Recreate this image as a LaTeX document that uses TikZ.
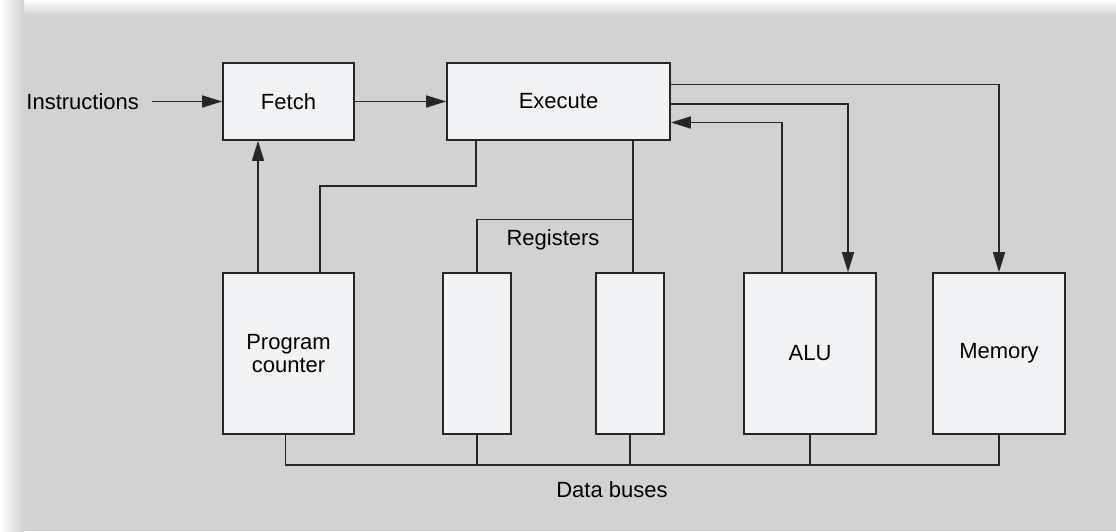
\documentclass[tikz,border=0pt]{standalone}
\usepackage{fontspec}
\setmainfont{Liberation Sans}
\usetikzlibrary{arrows.meta, positioning, calc}
\definecolor{StoneGray}{HTML}{D2D2D2}
\definecolor{BoxFill}{HTML}{F2F3F5}
\definecolor{LineDark}{HTML}{262626}

\begin{document}
\begin{tikzpicture}[
    x=1pt, y=-1pt,
    font=\fontsize{22}{23.5}\selectfont,
    box/.style={rectangle, draw=LineDark, fill=BoxFill, line width=1.7pt, align=center, inner sep=0pt},
    unit/.style={box, minimum width=132pt, minimum height=161pt},
    reg/.style={box, minimum width=68pt, minimum height=161pt},
    lbl/.style={inner sep=3pt, text=black},
    wire/.style={draw=LineDark, line width=1.7pt},
    arr/.style={wire, -{Triangle[length=20pt,width=12pt]}}
]
    % Background
    \fill[StoneGray] (0,0) rectangle (1116,531);
    \shade[top color=white, bottom color=StoneGray] (0,0) rectangle (1116,16);
    \shade[left color=white, right color=StoneGray] (0,0) rectangle (24,531);
    \useasboundingbox (0,0) rectangle (1116,531);

    % Control
    \node[box, minimum width=131pt, minimum height=77pt] (fetch) at (288.5,101.5) {Fetch};
    \node[box, minimum width=223pt, minimum height=77pt] (exec) at (558.5,101.5) {Execute};
    \node[lbl, inner xsep=13pt, left=70pt of fetch] (instr) {Instructions};

    % Units
    \node[unit, minimum width=131pt] (pc) at (288.5,353.5) {Program\\counter};
    \node[reg] (reg1) at (477,353.5) {};
    \node[reg] (reg2) at (630,353.5) {};
    \node[unit] (alu) at (810,353.5) {ALU};
    \node[unit] (mem) at (999,353.5) {Memory};
    \node[lbl] (reglbl) at (553,240) {Registers};
    \node[lbl] (buslbl) at (612,490) {Data buses};

    % Connections
    \draw[arr] (instr) -- (fetch);
    \draw[arr] (fetch) -- (exec);
    \draw[arr] ([xshift=-30.5pt]pc.north) -- ([xshift=-30.5pt]fetch.south);
    \draw[wire] ([xshift=31.5pt]pc.north) |- ($(exec.south)+(-82.5,45)$) -- ([xshift=-82.5pt]exec.south);
    \coordinate (tap) at ($(exec.south)+(74.5,78.5)$);
    \draw[wire] ([xshift=74.5pt]exec.south) -- ([xshift=3pt]reg2.north);
    \draw[wire] (tap) -| (reg1.north);
    \draw[arr] ($(exec.east)+(0,-17)$) -| (mem.north);
    \draw[arr] ($(exec.east)+(0,2.5)$) -| ([xshift=38pt]alu.north);
    \draw[arr] ([xshift=-28pt]alu.north) |- ($(exec.east)+(0,21)$);

    % Data buses
    \coordinate (bus) at (0,465);
    \draw[wire] ([xshift=-3pt]pc.south) |- (bus -| mem.south) -- (mem.south);
    \foreach \u in {reg1,reg2,alu}
        \draw[wire] (\u.south) -- (\u.south |- bus);
\end{tikzpicture}
\end{document}
